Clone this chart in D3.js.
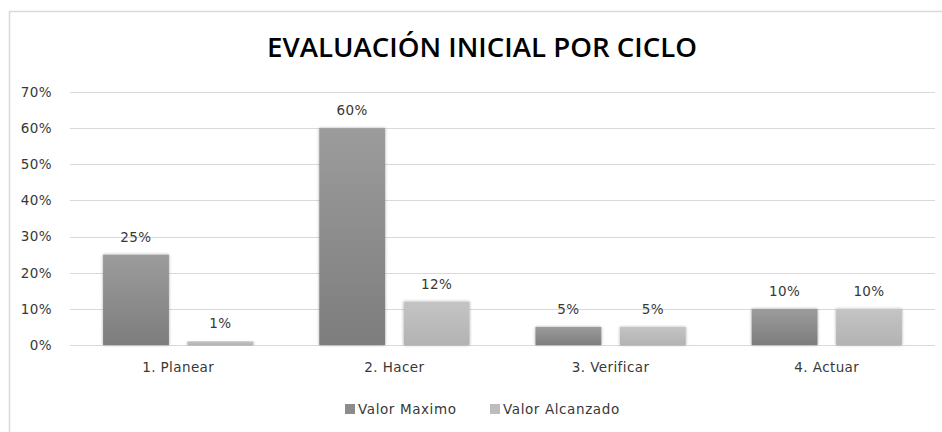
<!DOCTYPE html>
<html>
<head>
<meta charset="utf-8">
<script src="https://cdn.jsdelivr.net/npm/d3@7"></script>
<style>
  body { margin: 0; background: #fff; }
  svg { display: block; }
  text { font-family: "DejaVu Sans", Verdana, sans-serif; fill: #383838; }
</style>
</head>
<body>
<div id="chart"></div>
<script>
// data
var categories = ['1. Planear', '2. Hacer', '3. Verificar', '4. Actuar'];
var seriesNames = ['Valor Maximo', 'Valor Alcanzado'];
var valorMaximo = [0.25, 0.60, 0.05, 0.10];
var valorAlcanzado = [0.01, 0.12, 0.05, 0.10];
var yTicks = [0, 0.1, 0.2, 0.3, 0.4, 0.5, 0.6, 0.7];

var width = 942, height = 432;
var margin = {left: 70, right: 7, top: 92, bottom: 87};
var fontSize = '13.5px';

var svg = d3.select('#chart').append('svg')
  .attr('width', width)
  .attr('height', height);

var defs = svg.append('defs');
var gradDark = defs.append('linearGradient').attr('id', 'gDark')
  .attr('x1', 0).attr('y1', 0).attr('x2', 0).attr('y2', 1);
gradDark.append('stop').attr('offset', '0%').attr('stop-color', '#9c9c9c');
gradDark.append('stop').attr('offset', '100%').attr('stop-color', '#7d7d7d');
var gradLight = defs.append('linearGradient').attr('id', 'gLight')
  .attr('x1', 0).attr('y1', 0).attr('x2', 0).attr('y2', 1);
gradLight.append('stop').attr('offset', '0%').attr('stop-color', '#c4c4c4');
gradLight.append('stop').attr('offset', '100%').attr('stop-color', '#b3b3b3');
var shadow = defs.append('filter').attr('id', 'soft')
  .attr('x', '-10%').attr('y', '-10%').attr('width', '120%').attr('height', '120%');
shadow.append('feGaussianBlur').attr('in', 'SourceAlpha').attr('stdDeviation', 1.5).attr('result', 'b');
shadow.append('feComponentTransfer').attr('in', 'b').attr('result', 'b2')
  .append('feFuncA').attr('type', 'linear').attr('slope', 0.35);
var merge = shadow.append('feMerge');
merge.append('feMergeNode').attr('in', 'b2');
merge.append('feMergeNode').attr('in', 'SourceGraphic');

// chart area border (runs off the right and bottom edges)
svg.append('rect')
  .attr('x', 9.5).attr('y', 11.5)
  .attr('width', 960).attr('height', 460)
  .attr('fill', 'none')
  .attr('stroke', '#d9d9d9')
  .attr('stroke-width', 1.5);

svg.append('text')
  .attr('x', 482).attr('y', 57)
  .attr('text-anchor', 'middle')
  .attr('textLength', 430)
  .attr('lengthAdjust', 'spacingAndGlyphs')
  .style('font-family', '"Open Sans", "Liberation Sans", sans-serif')
  .style('font-weight', 600)
  .style('font-size', '27px')
  .style('fill', '#000')
  .text('EVALUACIÓN INICIAL POR CICLO');

var x0 = d3.scaleBand()
  .domain(categories)
  .range([margin.left, width - margin.right])
  .paddingInner(0.305)
  .paddingOuter(0.153);

var x1 = d3.scaleBand()
  .domain(seriesNames)
  .range([0, x0.bandwidth()])
  .paddingInner(0.22)
  .paddingOuter(0);

var y = d3.scaleLinear()
  .domain([0, 0.7])
  .range([height - margin.bottom, margin.top]);

var pct = d3.format('.0%');

// gridlines
svg.append('g').selectAll('line')
  .data(yTicks)
  .enter().append('line')
  .attr('x1', margin.left).attr('x2', width - margin.right)
  .attr('y1', function(d) { return Math.round(y(d)) + 0.5; })
  .attr('y2', function(d) { return Math.round(y(d)) + 0.5; })
  .attr('stroke', '#d9d9d9')
  .attr('stroke-width', 1);

// y axis labels
var yAxis = d3.axisLeft(y).tickValues(yTicks).tickFormat(pct).tickSize(0).tickPadding(0);
var yg = svg.append('g')
  .attr('transform', 'translate(' + 52 + ',0)')
  .call(yAxis);
yg.select('.domain').remove();
yg.selectAll('text').style('font-size', fontSize).style('fill', '#383838')
  .style('letter-spacing', '0.4px')
  .style('font-family', '"DejaVu Sans", sans-serif');

// x axis labels
var xAxis = d3.axisBottom(x0).tickSize(0).tickPadding(17);
var xg = svg.append('g')
  .attr('transform', 'translate(0,' + (height - margin.bottom) + ')')
  .call(xAxis);
xg.select('.domain').remove();
xg.selectAll('text').style('font-size', fontSize).style('fill', '#383838')
  .style('letter-spacing', '0.4px')
  .style('font-family', '"DejaVu Sans", sans-serif');

var rows = categories.map(function(c, i) {
  return {cat: c, vals: [
    {name: seriesNames[0], v: valorMaximo[i]},
    {name: seriesNames[1], v: valorAlcanzado[i]}
  ]};
});

var groups = svg.append('g').selectAll('g')
  .data(rows)
  .enter().append('g')
  .attr('transform', function(d) { return 'translate(' + x0(d.cat) + ',0)'; });

groups.selectAll('rect')
  .data(function(d) { return d.vals; })
  .enter().append('rect')
  .attr('x', function(d) { return x1(d.name); })
  .attr('y', function(d) { return y(d.v); })
  .attr('width', x1.bandwidth())
  .attr('height', function(d) { return y(0) - y(d.v); })
  .attr('fill', function(d) { return d.name === seriesNames[0] ? 'url(#gDark)' : 'url(#gLight)'; })
  .attr('filter', 'url(#soft)');

groups.selectAll('text.lbl')
  .data(function(d) { return d.vals; })
  .enter().append('text')
  .attr('class', 'lbl')
  .attr('x', function(d) { return x1(d.name) + x1.bandwidth() / 2; })
  .attr('y', function(d) { return y(d.v) - 13; })
  .attr('text-anchor', 'middle')
  .style('font-size', fontSize)
  .style('letter-spacing', '0.4px')
  .text(function(d) { return pct(d.v); });

// legend
var legendX = [345, 490];
var legend = svg.append('g').selectAll('g')
  .data(seriesNames)
  .enter().append('g')
  .attr('transform', function(d, i) { return 'translate(' + legendX[i] + ',404)'; });
legend.append('rect')
  .attr('width', 10).attr('height', 10)
  .attr('fill', function(d, i) { return i === 0 ? '#8c8c8c' : '#bdbdbd'; });
legend.append('text')
  .attr('x', 13).attr('y', 10)
  .style('font-size', fontSize)
  .style('letter-spacing', '0.6px')
  .text(function(d) { return d; });
</script>
</body>
</html>
